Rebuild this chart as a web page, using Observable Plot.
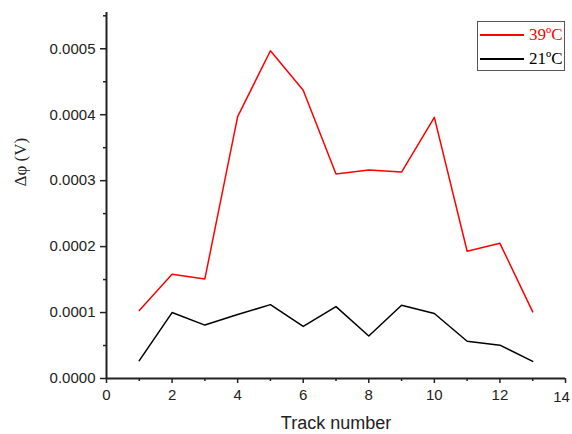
<!DOCTYPE html>
<html>
<head>
<meta charset="utf-8">
<script src="https://cdn.jsdelivr.net/npm/d3@7"></script>
<script src="https://cdn.jsdelivr.net/npm/@observablehq/plot@0.6"></script>
<style>
  html, body { margin: 0; padding: 0; background: #fff; }
  #wrap { position: relative; width: 572px; height: 434px; }
  #legend { position: absolute; left: 477px; top: 21px; width: 86px; height: 48px;
    border: 1.5px solid #555; background: #fff; font-family: "Liberation Serif", "Times New Roman", serif; font-size: 17px; }
  .row { position: absolute; left: 0px; height: 20px; width: 86px; }
  .row .ln { position: absolute; left: 2px; width: 44px; top: 9px; height: 2px; }
  .row .tx { position: absolute; left: 51px; top: 0px; line-height: 20px; white-space: nowrap; }
</style>
</head>
<body>
<div id="wrap"></div>
<script>
const tracks = [1, 2, 3, 4, 5, 6, 7, 8, 9, 10, 11, 12, 13];
const hot = [0.000103, 0.000158, 0.000151, 0.000397, 0.000497, 0.000437, 0.000310, 0.000316, 0.000313, 0.000396, 0.000193, 0.000205, 0.000101];
const cool = [0.000027, 0.000100, 0.000081, 0.000097, 0.000112, 0.000079, 0.000109, 0.0000645, 0.000111, 0.0000985, 0.0000565, 0.0000505, 0.000026];
const seriesNames = ["39ºC", "21ºC"];
const seriesColors = ["#ff0000", "#000000"];
const xMajor = [0, 2, 4, 6, 8, 10, 12, 14];
const xMinor = [1, 3, 5, 7, 9, 11, 13];
const yMajor = [0, 0.0001, 0.0002, 0.0003, 0.0004, 0.0005];
const yMinor = [0.00005, 0.00015, 0.00025, 0.00035, 0.00045, 0.00055];

const hotData = tracks.map((t, i) => ({t, v: hot[i]}));
const coolData = tracks.map((t, i) => ({t, v: cool[i]}));
const lastX = xMajor[xMajor.length - 1];

const chart = Plot.plot({
  width: 572,
  height: 434,
  marginLeft: 106,
  marginRight: 7,
  marginTop: 12,
  marginBottom: 56,
  style: {fontFamily: "'Liberation Sans', Arial, sans-serif", fontSize: "15px", color: "#222", background: "#fff"},
  x: {domain: [0, 14]},
  y: {domain: [0, 0.000555]},
  marks: [
    Plot.axisX(xMajor, {tickSize: 5, tickPadding: 6, tickFormat: d => d === lastX ? "" : String(d), strokeWidth: 1.5, label: null, fontSize: 15}),
    Plot.text([lastX], {x: d => d, frameAnchor: "bottom", dy: 19, dx: -4, text: d => String(d), fontSize: 15, fill: "#222", lineAnchor: "middle"}),
    Plot.axisX(xMinor, {tickSize: 3, tickFormat: () => "", strokeWidth: 1.5, label: null}),
    Plot.axisY(yMajor, {tickSize: 6, tickPadding: 5, tickFormat: d3.format(".4f"), strokeWidth: 1.5, label: null, fontSize: 15}),
    Plot.axisY(yMinor, {tickSize: 3, tickFormat: () => "", strokeWidth: 1.5, label: null}),
    Plot.ruleX([0], {strokeWidth: 2}),
    Plot.ruleY([0], {strokeWidth: 2}),
    Plot.line(hotData, {x: "t", y: "v", stroke: seriesColors[0], strokeWidth: 1.5}),
    Plot.line(coolData, {x: "t", y: "v", stroke: seriesColors[1], strokeWidth: 1.5}),
    Plot.text(["Track number"], {frameAnchor: "bottom", dy: 45, fontSize: 18, fill: "#222", lineAnchor: "middle"}),
    Plot.text(["Δφ (V)"], {frameAnchor: "left", dx: -86, dy: -9, rotate: -90, fontSize: 17, fill: "#222", lineAnchor: "middle", fontFamily: "'Liberation Serif', 'Times New Roman', serif"})
  ]
});

const wrap = document.getElementById("wrap");
wrap.appendChild(chart);

const legend = document.createElement("div");
legend.id = "legend";
seriesNames.forEach((name, i) => {
  const row = document.createElement("div");
  row.className = "row";
  row.style.top = (i === 0 ? 3 : 27) + "px";
  const ln = document.createElement("div");
  ln.className = "ln";
  ln.style.background = seriesColors[i];
  const tx = document.createElement("div");
  tx.className = "tx";
  tx.style.color = seriesColors[i];
  tx.textContent = name;
  row.appendChild(ln);
  row.appendChild(tx);
  legend.appendChild(row);
});
wrap.appendChild(legend);
</script>
</body>
</html>
